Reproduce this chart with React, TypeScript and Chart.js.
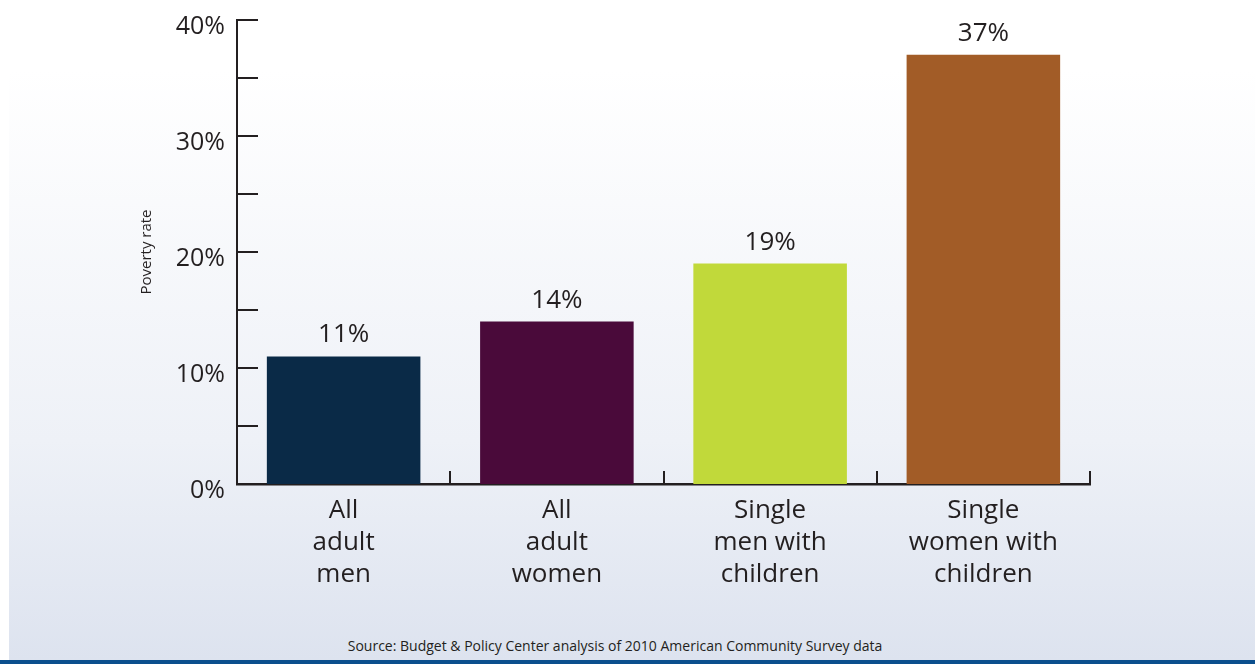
import React, { useEffect, useRef } from "react";
import { Chart, registerables } from "chart.js";

Chart.register(...registerables);

const categories: string[][] = [
  ["All", "adult", "men"],
  ["All", "adult", "women"],
  ["Single", "men with", "children"],
  ["Single", "women with", "children"],
];
const povertyRates: number[] = [11, 14, 19, 37];
const barColors: string[] = ["#0a2a47", "#4a0a3a", "#c1d93a", "#a25c27"];
const yTickValues: number[] = [0, 10, 20, 30, 40];
const yAxisTitle = "Poverty rate";
const sourceNote = "Source: Budget & Policy Center analysis of 2010 American Community Survey data";

const FONT = "'Open Sans', 'Noto Sans', sans-serif";
const AXIS_COLOR = "#231f20";

const inwardTicks = {
  id: "inwardTicks",
  afterDraw(chart: any) {
    const { ctx, chartArea, scales } = chart;
    const y = scales.y;
    const x = scales.x;
    ctx.save();
    ctx.strokeStyle = AXIS_COLOR;
    ctx.lineWidth = 2;
    y.ticks.forEach((t: any) => {
      if (t.value === 0) return;
      const py = Math.round(y.getPixelForValue(t.value));
      ctx.beginPath();
      ctx.moveTo(chartArea.left, py);
      ctx.lineTo(chartArea.left + 21, py);
      ctx.stroke();
    });
    const n = categories.length;
    const w = x.getPixelForValue(1) - x.getPixelForValue(0);
    for (let i = 0; i < n; i++) {
      const bx = Math.round(x.getPixelForValue(i) + w / 2);
      ctx.beginPath();
      ctx.moveTo(bx, chartArea.bottom);
      ctx.lineTo(bx, chartArea.bottom - 13);
      ctx.stroke();
    }
    ctx.restore();
  },
};

const valueLabels = {
  id: "valueLabels",
  afterDatasetsDraw(chart: any) {
    const { ctx } = chart;
    const meta = chart.getDatasetMeta(0);
    ctx.save();
    ctx.fillStyle = "#231f20";
    ctx.font = `26px ${FONT}`;
    ctx.textAlign = "center";
    ctx.textBaseline = "alphabetic";
    meta.data.forEach((bar: any, i: number) => {
      ctx.fillText(`${povertyRates[i]}%`, bar.x, bar.y - 14);
    });
    ctx.restore();
  },
};

export default function App() {
  const canvasRef = useRef<HTMLCanvasElement | null>(null);

  useEffect(() => {
    document.body.style.margin = "0";
    const canvas = canvasRef.current;
    if (!canvas) return;
    const chart = new Chart(canvas, {
      type: "bar",
      data: {
        labels: categories,
        datasets: [
          {
            data: povertyRates,
            backgroundColor: barColors,
            borderWidth: 0,
            barPercentage: 0.72,
            categoryPercentage: 1,
          },
        ],
      },
      options: {
        responsive: false,
        animation: false,
        devicePixelRatio: 1,
        layout: { padding: { left: 138, right: 165, top: 20, bottom: 0 } },
        plugins: {
          legend: { display: false },
          tooltip: { enabled: false },
        },
        scales: {
          x: {
            grid: { display: false, drawTicks: false },
            border: { display: true, color: AXIS_COLOR, width: 2.5 },
            ticks: {
              color: "#231f20",
              font: { family: FONT, size: 26, lineHeight: 1.24 },
              padding: 10,
              maxRotation: 0,
              autoSkip: false,
            },
            afterFit(scale: any) {
              scale.height = 180;
              scale.paddingLeft = 0;
              scale.paddingRight = 0;
            },
          },
          y: {
            min: 0,
            max: 40,
            grid: { display: false, drawTicks: false },
            border: { display: true, color: AXIS_COLOR, width: 2 },
            ticks: {
              stepSize: 5,
              color: "#231f20",
              font: { family: FONT, size: 25 },
              padding: 12,
              labelOffset: 7,
              callback: (v: any) => (yTickValues.includes(Number(v)) ? `${v}%` : ""),
            },
            title: {
              display: true,
              text: yAxisTitle,
              color: "#231f20",
              font: { family: FONT, size: 15 },
              padding: 0,
            },
            afterFit(scale: any) {
              scale.width = 99;
              scale.paddingTop = 0;
              scale.paddingBottom = 0;
            },
          },
        },
      },
      plugins: [inwardTicks, valueLabels],
    });
    return () => chart.destroy();
  }, []);

  return (
    <div
      style={{
        position: "relative",
        width: 1255,
        height: 664,
        overflow: "hidden",
        background: "#ffffff",
      }}
    >
      <div
        style={{
          position: "absolute",
          left: 9,
          top: 0,
          right: 0,
          bottom: 0,
          background: "linear-gradient(to bottom, #ffffff 0px, #ffffff 70px, #eef1f7 440px, #dde3ef 660px)",
        }}
      />
      <div
        style={{
          position: "absolute",
          left: 0,
          right: 0,
          bottom: 0,
          height: 4,
          background: "#0b4f8d",
        }}
      />
      <div
        style={{
          position: "absolute",
          left: 0,
          width: 1230,
          top: 636,
          textAlign: "center",
          fontFamily: FONT,
          fontSize: 14,
          color: "#231f20",
          whiteSpace: "nowrap",
        }}
      >
        {sourceNote}
      </div>
      <canvas
        ref={canvasRef}
        width={1255}
        height={664}
        style={{ position: "absolute", left: 0, top: 0, width: 1255, height: 664 }}
      />
    </div>
  );
}
